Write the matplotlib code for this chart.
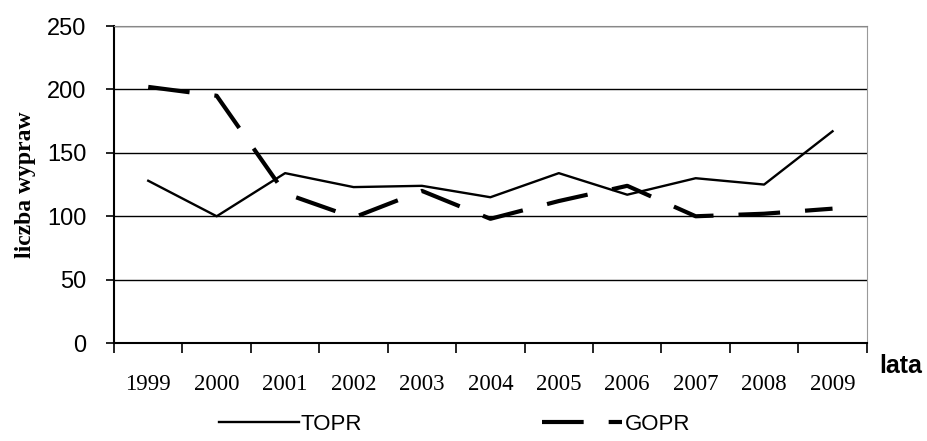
import matplotlib.pyplot as plt
import numpy as np

years = ['1999', '2000', '2001', '2002', '2003', '2004', '2005', '2006', '2007', '2008', '2009']
topr = [128, 100, 134, 123, 124, 115, 134, 117, 130, 125, 167]
gopr = [202, 195, 118, 99, 120, 98, 112, 124, 100, 102, 106]

x = np.arange(len(years))

fig = plt.figure(figsize=(9.27, 4.41), dpi=100)
ax = fig.add_axes([0.123, 0.222, 0.812, 0.719])

ax.plot(x, topr, color='black', lw=1.7, label='TOPR', zorder=3)
gl, = ax.plot(x, gopr, color='black', lw=3.0, label='GOPR', zorder=3)
gl.set_dashes((10, 6))

ax.set_xlim(-0.5, len(years) - 0.5)
ax.set_ylim(0, 250)
ax.set_yticks(range(0, 251, 50))
ax.grid(axis='y', color='black', lw=1.0)
ax.set_axisbelow(True)

# ticks between categories, labels at the centres
ax.set_xticks(np.arange(-0.5, len(years), 1.0))
ax.set_xticklabels([])
ax.set_xticks(x, minor=True)
ax.set_xticklabels(years, minor=True, fontsize=16.5, family='Liberation Serif')
ax.tick_params(axis='x', which='major', direction='out', length=7, width=1.2, color='black')
ax.tick_params(axis='x', which='minor', length=0, pad=22)
ax.tick_params(axis='y', direction='out', length=6, width=1.2, pad=14, labelsize=17)
for t in ax.get_yticklabels():
    t.set_family('Liberation Sans')

for s in ['left', 'bottom']:
    ax.spines[s].set_color('black')
    ax.spines[s].set_linewidth(1.5)
ax.spines['top'].set_color('#888888')
ax.spines['right'].set_color('#999999')

ax.set_ylabel('liczba wypraw', fontsize=17, fontweight='bold', family='Liberation Serif', labelpad=8)
fig.text(0.948, 0.155, 'lata', fontsize=18, fontweight='bold', family='Liberation Sans')

fig.legend(loc='lower center', bbox_to_anchor=(0.49, -0.032), ncol=2, frameon=False,
           handlelength=3.6, columnspacing=8.1, handletextpad=0.1,
           prop={'family': 'Liberation Sans', 'size': 16})

fig.savefig('out.png', dpi=100)
